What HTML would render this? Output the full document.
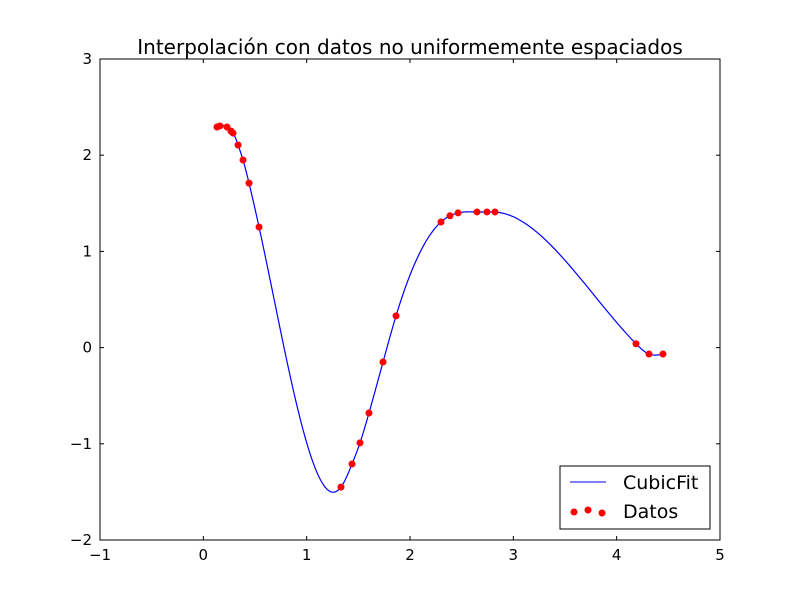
<!DOCTYPE html>
<html><head><meta charset="utf-8"><style>
body{margin:0;background:#fff}
svg{font-family:"DejaVu Sans","Liberation Sans",sans-serif}
</style></head><body>
<svg id="chart" width="800" height="600">
<rect width="800" height="600" fill="#fff"/>
<text x="410" y="54" font-size="20" text-anchor="middle">Interpolación con datos no uniformemente espaciados</text>
<g id="ticks"></g>
<clipPath id="clip"><rect x="100" y="59" width="620" height="481"/></clipPath>
<g id="marks" clip-path="url(#clip)"></g>
<rect x="100" y="59" width="620" height="481" fill="none" stroke="#000"/>
<g>
<rect x="560" y="466" width="150" height="63" fill="#fff" stroke="#000"/>
<line x1="570" y1="482" x2="606" y2="482" stroke="#0000ff"/>
<text x="623" y="489" font-size="19">CubicFit</text>
<circle cx="574" cy="512" r="3.5" fill="#f00"/>
<circle cx="588" cy="510" r="3.5" fill="#f00"/>
<circle cx="602" cy="513" r="3.5" fill="#f00"/>
<text x="623" y="518" font-size="19">Datos</text>
</g>
</svg>
<script>
const xData=[0.132,0.161,0.229,0.268,0.287,0.336,0.384,0.442,0.539,1.332,1.439,1.516,1.603,1.739,1.865,2.300,2.387,2.465,2.648,2.745,2.823,4.187,4.313,4.448];
const yData=[2.293,2.304,2.293,2.25,2.23,2.106,1.95,1.71,1.254,-1.45,-1.21,-0.99,-0.68,-0.15,0.33,1.306,1.37,1.40,1.41,1.41,1.41,0.04,-0.067,-0.067];
const xTicks=[-1,0,1,2,3,4,5];
const yTicks=[-2,-1,0,1,2,3];
const X0=100,X1=720,Y0=540,Y1=59;
const sx=v=>X0+(v+1)/6*(X1-X0);
const sy=v=>Y0-(v+2)/5*(Y0-Y1);
const NS="http://www.w3.org/2000/svg";
const tg=document.getElementById('ticks'),mg=document.getElementById('marks');
function mk(tag,at,par){const e=document.createElementNS(NS,tag);for(const k in at)e.setAttribute(k,at[k]);par.appendChild(e);return e;}
xTicks.forEach(t=>{const x=sx(t);
 const a=mk('line',{x1:x,y1:Y0,x2:x,y2:Y0-4,stroke:'#000'},tg);
 
 
 const b=mk('line',{x1:x,y1:Y1,x2:x,y2:Y1+4,stroke:'#000'},tg);
 
 
 const l=mk('text',{x:x,y:Y0+20,'font-size':15,'text-anchor':'middle'},tg);
 l.textContent=t<0?'\u2212'+(-t):t;
 
 
});
yTicks.forEach(t=>{const y=sy(t);
 const a=mk('line',{x1:X0,y1:y,x2:X0+4,y2:y,stroke:'#000'},tg);
 
 
 const b=mk('line',{x1:X1,y1:y,x2:X1-4,y2:y,stroke:'#000'},tg);
 
 
 const l=mk('text',{x:X0-8,y:y+5,'font-size':15,'text-anchor':'end'},tg);
 l.textContent=t<0?'\u2212'+(-t):t;
 
 
});
const n=xData.length,h=[],al=[0],l=[1],mu=[0],z=[0],c=new Array(n).fill(0),b=[],d=[];
for(let i=0;i<n-1;i++)h[i]=xData[i+1]-xData[i];
for(let i=1;i<n-1;i++)al[i]=3/h[i]*(yData[i+1]-yData[i])-3/h[i-1]*(yData[i]-yData[i-1]);
for(let i=1;i<n-1;i++){l[i]=2*(xData[i+1]-xData[i-1])-h[i-1]*mu[i-1];mu[i]=h[i]/l[i];z[i]=(al[i]-h[i-1]*z[i-1])/l[i];}
l[n-1]=1;z[n-1]=0;
for(let j=n-2;j>=0;j--){c[j]=z[j]-mu[j]*c[j+1];b[j]=(yData[j+1]-yData[j])/h[j]-h[j]*(c[j+1]+2*c[j])/3;d[j]=(c[j+1]-c[j])/(3*h[j]);}
let p='';
for(let i=0;i<n-1;i++){for(let k=0;k<=30;k++){const t=h[i]*k/30,v=yData[i]+b[i]*t+c[i]*t*t+d[i]*t*t*t;p+=(p?'L':'M')+sx(xData[i]+t).toFixed(2)+','+sy(v).toFixed(2);}}
const line=mk('path',{d:p,fill:'none',stroke:'#0000ff','stroke-width':1.2},mg);


xData.forEach((x,i)=>{const ci=mk('circle',{cx:sx(x),cy:sy(yData[i]),r:3.5,fill:'#f00'},mg);
 
 });
</script>
</body></html>
